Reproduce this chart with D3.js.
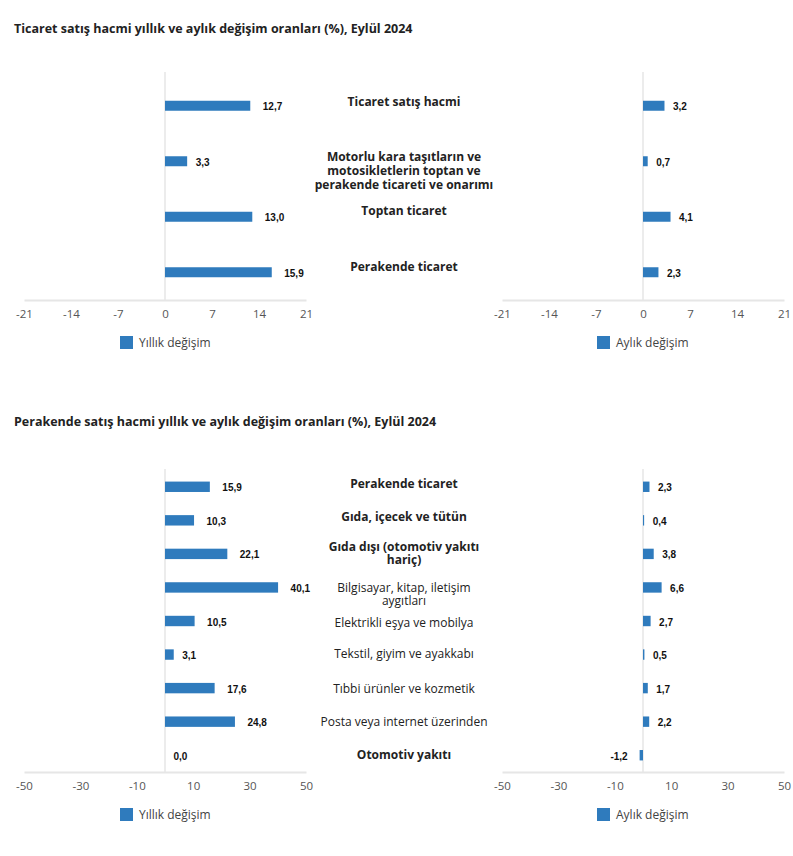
<!DOCTYPE html>
<html>
<head>
<meta charset="utf-8">
<script src="https://cdn.jsdelivr.net/npm/d3@7"></script>
<style>
  html, body { margin: 0; padding: 0; background: #fff; }
  svg { display: block; }
</style>
</head>
<body>
<div id="chart"></div>
<script>
// ---------------- DATA ----------------
const title1 = "Ticaret satış hacmi yıllık ve aylık değişim oranları (%), Eylül 2024";
const title2 = "Perakende satış hacmi yıllık ve aylık değişim oranları (%), Eylül 2024";

const categories1 = [
  ["Ticaret satış hacmi"],
  ["Motorlu kara taşıtların ve", "motosikletlerin toptan ve", "perakende ticareti ve onarımı"],
  ["Toptan ticaret"],
  ["Perakende ticaret"]
];
const bold1 = [true, true, true, true];
const yearly1 = [12.7, 3.3, 13.0, 15.9];
const monthly1 = [3.2, 0.7, 4.1, 2.3];
const ticks1 = [-21, -14, -7, 0, 7, 14, 21];

const categories2 = [
  ["Perakende ticaret"],
  ["Gıda, içecek ve tütün"],
  ["Gıda dışı (otomotiv yakıtı", "hariç)"],
  ["Bilgisayar, kitap, iletişim", "aygıtları"],
  ["Elektrikli eşya ve mobilya"],
  ["Tekstil, giyim ve ayakkabı"],
  ["Tıbbi ürünler ve kozmetik"],
  ["Posta veya internet üzerinden"],
  ["Otomotiv yakıtı"]
];
const bold2 = [true, true, true, false, false, false, false, false, true];
const yearly2 = [15.9, 10.3, 22.1, 40.1, 10.5, 3.1, 17.6, 24.8, 0.0];
const monthly2 = [2.3, 0.4, 3.8, 6.6, 2.7, 0.5, 1.7, 2.2, -1.2];
const ticks2 = [-50, -30, -10, 10, 30, 50];

const legendYearly = "Yıllık değişim";
const legendMonthly = "Aylık değişim";

// ---------------- LAYOUT / STYLE ----------------
const W = 793, H = 856;
const barColor = "#2f7bbd";
const gridColor = "#e6e6e6";
const uiFont = "'Open Sans', 'Noto Sans', sans-serif";
const valFont = "'Liberation Sans', Arial, sans-serif";
const labelX = 404;

const svg = d3.select("#chart").append("svg")
  .attr("width", W).attr("height", H);

const fmt = v => d3.format(".1f")(v).replace("\u2212", "-").replace(".", ",");
const tickFmt = v => String(v);

function panel(cfg) {
  const g = svg.append("g");
  // title
  g.append("text")
    .attr("x", 14).attr("y", cfg.titleY)
    .attr("dominant-baseline", "central")
    .style("font-family", uiFont).style("font-weight", 700)
    .style("font-size", "12.5px").style("fill", "#222")
    .text(cfg.title);

  const y = d3.scaleBand()
    .domain(d3.range(cfg.categories.length))
    .range([cfg.top, cfg.bottom])
    .paddingInner(cfg.pad).paddingOuter(cfg.pad / 2);

  const sides = [
    { x0: 24, x1: 306, values: cfg.yearly, legend: legendYearly, legX: 120 },
    { x0: 502, x1: 784, values: cfg.monthly, legend: legendMonthly, legX: 597 }
  ];

  sides.forEach(s => {
    const x = d3.scaleLinear().domain(cfg.domain).range([s.x0, s.x1]);
    const sg = g.append("g");

    // zero grid line
    sg.append("line")
      .attr("x1", x(0)).attr("x2", x(0))
      .attr("y1", cfg.gridTop).attr("y2", cfg.bottom)
      .attr("stroke", gridColor).attr("stroke-width", 1.5);

    // axis
    const axis = d3.axisBottom(x).tickValues(cfg.ticks).tickSize(0).tickPadding(10)
      .tickFormat(tickFmt);
    const ag = sg.append("g").attr("transform", `translate(0,${cfg.bottom})`).call(axis);
    ag.select(".domain").attr("stroke", gridColor).attr("stroke-width", 2);
    ag.selectAll("text")
      .style("font-family", uiFont).style("font-size", "11.5px").style("fill", "#555");

    // bars
    sg.selectAll("rect.bar").data(s.values).join("rect")
      .attr("class", "bar")
      .attr("x", d => x(Math.min(0, d)))
      .attr("width", d => Math.abs(x(d) - x(0)))
      .attr("y", (d, i) => y(i))
      .attr("height", y.bandwidth())
      .attr("fill", barColor);

    // value labels
    sg.selectAll("text.val").data(s.values).join("text")
      .attr("class", "val")
      .attr("x", d => {
        const gap = Math.abs(d) >= 10 ? 12.5 : 8.5;
        return d < 0 ? x(d) - 12 : x(d) + gap;
      })
      .attr("y", (d, i) => y(i) + y.bandwidth() / 2 + 1)
      .attr("text-anchor", d => d < 0 ? "end" : "start")
      .attr("dominant-baseline", "central")
      .style("font-family", valFont).style("font-weight", 700)
      .style("font-size", "10px").style("fill", "#111")
      .text(d => fmt(d));

    // legend
    sg.append("rect")
      .attr("x", s.legX).attr("y", cfg.legendY - 6.5)
      .attr("width", 13).attr("height", 13).attr("fill", barColor);
    sg.append("text")
      .attr("x", s.legX + 19).attr("y", cfg.legendY)
      .attr("dominant-baseline", "central")
      .style("font-family", uiFont).style("font-size", "12px").style("fill", "#444")
      .text(s.legend);
  });

  // category labels
  cfg.categories.forEach((lines, i) => {
    const cy = y(i) + y.bandwidth() / 2 + cfg.labelDy[i];
    const t = g.append("text")
      .attr("x", labelX)
      .attr("text-anchor", "middle")
      .style("font-family", uiFont)
      .style("font-weight", cfg.bold[i] ? 700 : 400)
      .style("font-size", "12px").style("fill", "#222");
    lines.forEach((ln, j) => {
      t.append("tspan")
        .attr("x", labelX)
        .attr("y", cy + j * cfg.lineH)
        .attr("dominant-baseline", "central")
        .text(ln);
    });
  });
}

panel({
  title: title1, titleY: 28,
  categories: categories1, bold: bold1, yearly: yearly1, monthly: monthly1,
  domain: [-21, 21], ticks: ticks1,
  top: 78, bottom: 300, gridTop: 72, pad: 0.82,
  legendY: 342.5, lineH: 14,
  labelDy: [-4.5, -5, -6, -6]
});

panel({
  title: title2, titleY: 421,
  categories: categories2, bold: bold2, yearly: yearly2, monthly: monthly2,
  domain: [-50, 50], ticks: ticks2,
  top: 470, bottom: 772, gridTop: 469, pad: 0.69,
  legendY: 814.5, lineH: 13,
  labelDy: [-3, -4, -7, 0, 1.5, -1, 0, 0, -1]
});
</script>
</body>
</html>
